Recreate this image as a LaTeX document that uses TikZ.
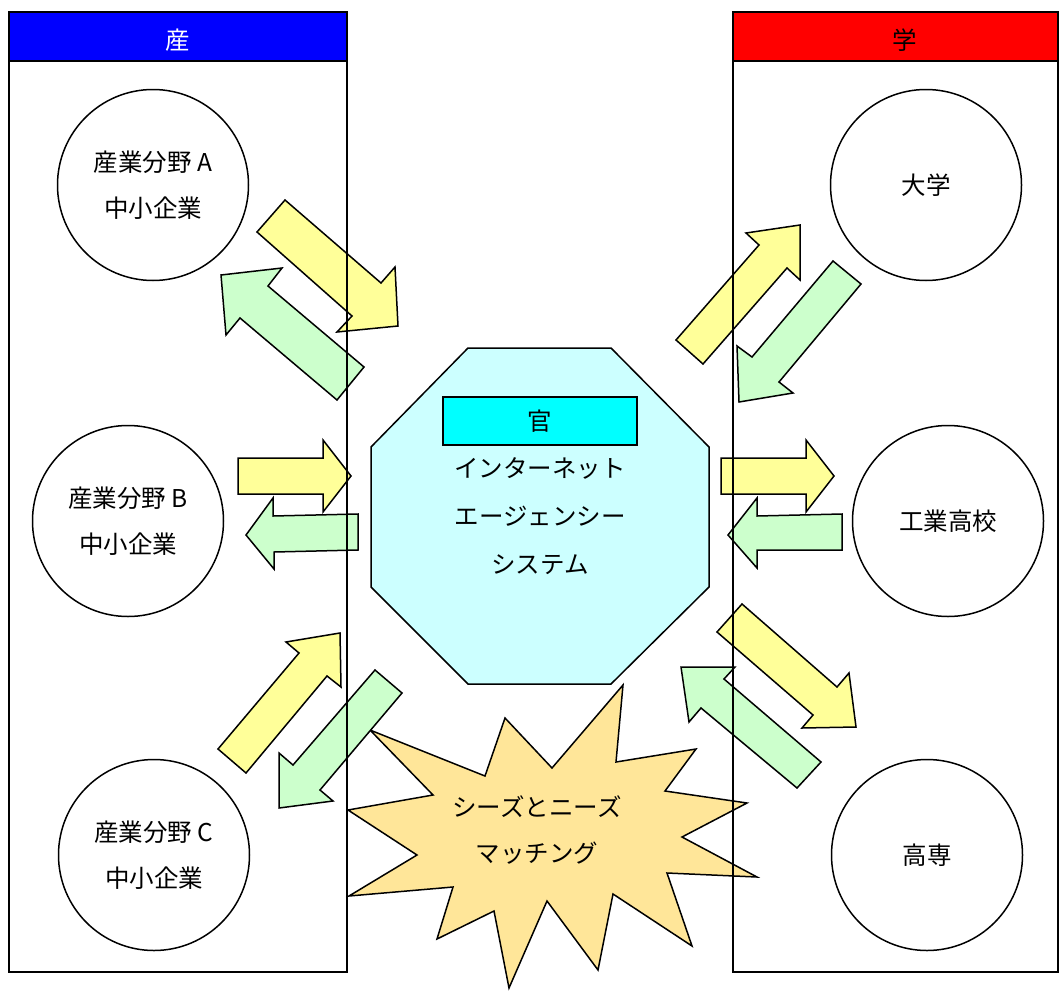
\documentclass[tikz,border=0pt]{standalone}
\usepackage{fontspec}
\setmainfont{Noto Sans CJK JP}
\definecolor{ayellow}{HTML}{FFFF99}
\definecolor{agreen}{HTML}{CCFFCC}
\definecolor{octfill}{HTML}{CCFFFF}
\definecolor{kanfill}{HTML}{00FFFF}
\definecolor{starfill}{HTML}{FFE699}
\begin{document}
\begin{tikzpicture}[x=1pt,y=-1pt,
  txt/.style={font=\fontsize{24.5}{46}\selectfont,align=center,inner sep=0pt},
  circ/.style={txt,draw,circle,line width=1.5pt,minimum size=191pt},
  yarrow/.style={draw=black,line width=1.5pt,fill=ayellow,line join=miter},
  garrow/.style={draw=black,line width=1.5pt,fill=agreen,line join=miter},
  frame/.style={draw=black,line width=2pt},
]
\useasboundingbox (0,0) rectangle (1059,990);
% headers
\fill[blue] (9,12) rectangle (347,61);
\fill[red] (733,12) rectangle (1058,61);
\node[txt,text=white] (hsan) at (178,40) {産};
\node[txt] (hgaku) at (905,40) {学};
% circles
\node[circ] (ca) at (153,185) {産業分野 A\\中小企業};
\node[circ] (cb) at (128,521) {産業分野 B\\中小企業};
\node[circ] (cc) at (154,855) {産業分野 C\\中小企業};
\node[circ] (daigaku) at (926,185) {大学};
\node[circ] (kogyo) at (948,521) {工業高校};
\node[circ] (kosen) at (927,855) {高専};
% octagon
\draw[line width=1.5pt,fill=octfill] (468,348) -- (611,348) -- (709,447) -- (709,587) -- (611,684) -- (468,684) -- (371,587) -- (371,447) -- cycle;
\node[txt,draw,line width=1.5pt,fill=kanfill,minimum width=194pt,minimum height=48pt] (kan) at (540,421) {官};
\node[txt,font=\fontsize{24.5}{48}\selectfont] (sys) at (540,516) {インターネット\\エージェンシー\\システム};
% starburst
\draw[line width=1.5pt,fill=starfill,line join=miter] (348,810) -- (433,795) -- (370,730) -- (485,776) -- (505,718) -- (552,768) -- (623,685) -- (616,762) -- (696,749) -- (665,791) -- (747,803) -- (682,837) -- (757,877) -- (667,873) -- (692,946) -- (613,894) -- (598,970) -- (547,901) -- (509,988) -- (494,911) -- (437,939) -- (453,887) -- (349,896) -- (417,855) -- cycle;
\node[txt] (match) at (537,830) {シーズとニーズ\\マッチング};
% arrows left top
\draw[yarrow] (257,232) -- (285,200) -- (381,283) -- (395,267) -- (398,326) -- (337,332) -- (352,316) -- cycle;
\draw[garrow] (221,275) -- (282,268) -- (268,286) -- (364,367) -- (337,400) -- (240,318) -- (226,335) -- cycle;
% arrows left middle
\draw[yarrow] (238,458) -- (323,458) -- (323,440) -- (351,476) -- (323,512) -- (323,494) -- (238,494) -- cycle;
\draw[garrow] (358,514) -- (273,516) -- (273,498) -- (246,535) -- (274,569) -- (274,552) -- (358,550) -- cycle;
% arrows left bottom
\draw[yarrow] (218,749) -- (246,773) -- (327,676) -- (341,687) -- (340,633) -- (286,642) -- (299,653) -- cycle;
\draw[garrow] (375,670) -- (402,693) -- (320,790) -- (333,801) -- (279,808) -- (279,753) -- (293,765) -- cycle;
% arrows right top
\draw[yarrow] (676,340) -- (703,364) -- (787,268) -- (800,280) -- (800,225) -- (746,233) -- (759,245) -- cycle;
\draw[garrow] (833,261) -- (861,284) -- (779,382) -- (793,393) -- (739,402) -- (737,346) -- (752,357) -- cycle;
% arrows right middle
\draw[yarrow] (721,458) -- (806,458) -- (806,440) -- (834,476) -- (806,512) -- (806,494) -- (721,494) -- cycle;
\draw[garrow] (842,514) -- (757,516) -- (757,498) -- (728,535) -- (757,568) -- (757,550) -- (842,550) -- cycle;
% arrows right bottom
\draw[yarrow] (717,632) -- (742,604) -- (837,687) -- (849,673) -- (856,727) -- (802,728) -- (813,715) -- cycle;
\draw[garrow] (681,667) -- (735,667) -- (724,679) -- (821,762) -- (797,788) -- (701,708) -- (689,722) -- cycle;
% frames on top
\draw[frame] (9,12) rectangle (347,972);
\draw[frame] (9,61) -- (347,61);
\draw[frame] (733,12) rectangle (1058,972);
\draw[frame] (733,61) -- (1058,61);
\end{tikzpicture}
\end{document}
